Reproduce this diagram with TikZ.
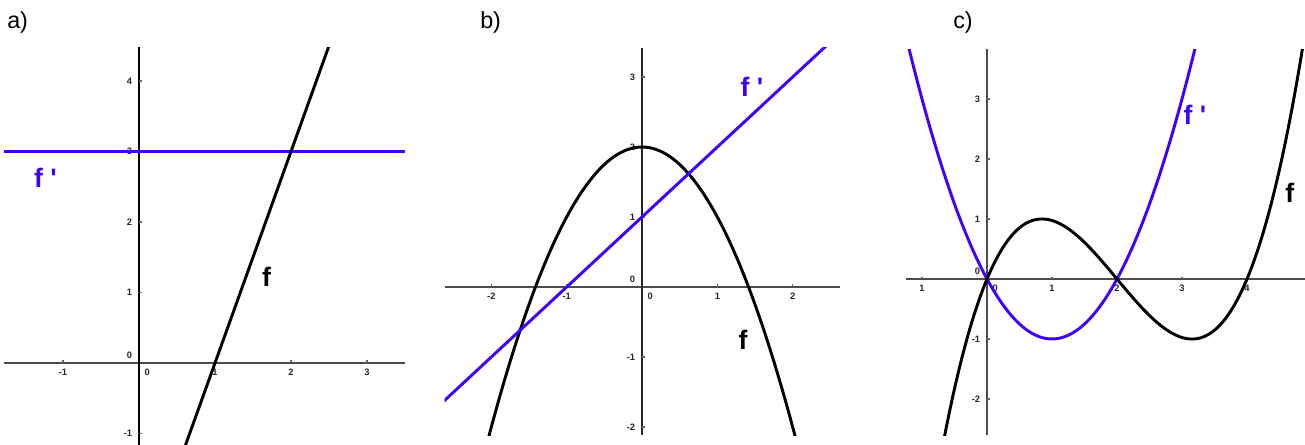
\documentclass[tikz,border=0pt]{standalone}
\usepackage{fontspec}
\setmainfont{Liberation Sans}
\newfontfamily\plotfont{Liberation Sans}
\usetikzlibrary{positioning}
\definecolor{derivblue}{RGB}{64,0,255}
\begin{document}
\begin{tikzpicture}[
  x=0.75pt,y=-0.75pt,
  axisline/.style={line width=1.3pt,draw=black!70},
  tickmark/.style={line width=0.9pt,draw=black!60},
  curve/.style={line width=2.2pt,line join=round},
  fcurve/.style={curve,draw=black},
  dcurve/.style={curve,draw=derivblue},
  ticklab/.style={font=\plotfont\fontsize{7}{7}\selectfont\bfseries,text=black!85,inner sep=0pt},
  panel/.style={font=\plotfont\fontsize{17.5}{17.5}\selectfont,anchor=west,inner sep=0pt},
  fname/.style={font=\plotfont\fontsize{20}{20}\selectfont\bfseries,inner sep=0pt}
]
\useasboundingbox (0,0) rectangle (1305,445);
\node[panel] (pa) at (7,22) {a)};
\node[panel] (pb) at (480,22) {b)};
\node[panel] (pc) at (953,22) {c)};
% a) f = 3x-3, f' = 3
\begin{scope}[shift={(139,363)},x=57pt,y=52.875pt]
  \draw[axisline] (-1.78,0) -- (3.5,0);
  \draw[axisline,draw=black] (0,-1.165) -- (0,4.48);
  \foreach \t in {-1,1,2,3} {
    \draw[tickmark] (\t,0) -- (\t,0.04);
    \node[ticklab,below=4pt] (ax\t) at (\t,0) {\t};
  }
  \foreach \t in {-1,1,2,3,4} {
    \draw[tickmark] (0,\t) -- (0.04,\t);
    \node[ticklab,left=5pt] (ay\t) at (0,\t) {\t};
  }
  \node[ticklab,above left=3pt and 5pt] (ay0) at (0,0) {0};
  \node[ticklab,below right=4pt and 4pt] (ax0) at (0,0) {0};
  \begin{scope}
    \clip (-1.78,-1.165) rectangle (3.5,4.48);
    \draw[dcurve] (-1.78,3) -- (3.5,3);
    \draw[fcurve] (0.6,-1.2) -- (2.5,4.5);
  \end{scope}
  \node[fname,text=derivblue] (fda) at (-1.23,2.62) {f '};
  \node[fname] (fa) at (1.68,1.22) {f};
\end{scope}
% b) f = 2-x^2, f' = x+1
\begin{scope}[shift={(642,287)},x=56.5pt,y=52.5pt]
  \draw[axisline] (-2.62,0) -- (2.63,0);
  \draw[axisline,draw=black!85] (0,-2.115) -- (0,3.415);
  \foreach \t in {-2,-1,1,2} {
    \draw[tickmark] (\t,0) -- (\t,0.04);
    \node[ticklab,below=4pt] (bx\t) at (\t,0) {\t};
  }
  \foreach \t in {-2,-1,1,2,3} {
    \draw[tickmark] (0,\t) -- (0.04,\t);
    \node[ticklab,left=5pt] (by\t) at (0,\t) {\t};
  }
  \node[ticklab,above left=3pt and 5pt] (by0) at (0,0) {0};
  \node[ticklab,below right=4pt and 4pt] (bx0) at (0,0) {0};
  \begin{scope}
    \clip (-2.62,-2.115) rectangle (2.63,3.415);
    \draw[fcurve] plot[domain=-2.1:2.1,samples=80,smooth] (\x,{2-\x*\x});
    \draw[dcurve] (-2.7,-1.7) -- (2.7,3.7);
  \end{scope}
  \node[fname,text=derivblue] (fdb) at (1.46,2.86) {f '};
  \node[fname] (fb) at (1.34,-0.76) {f};
\end{scope}
% c) f = x(x-2)(x-4)/3.08, f' = x^2-2x
\begin{scope}[shift={(987,279)},x=48.75pt,y=45pt]
  \draw[axisline] (-1.25,0) -- (4.9,0);
  \draw[axisline] (0,-2.6) -- (0,3.83);
  \foreach \t/\lab in {-1/1,1/1,2/2,3/3,4/4} {
    \draw[tickmark] (\t,0) -- (\t,0.04);
    \node[ticklab,below=4pt] (cx\t) at (\t,0) {\lab};
  }
  \foreach \t in {-2,-1,1,2,3} {
    \draw[tickmark] (0,\t) -- (0.04,\t);
    \node[ticklab,left=5pt] (cy\t) at (0,\t) {\t};
  }
  \node[ticklab,above left=3pt and 5pt] (cy0) at (0,0) {0};
  \node[ticklab,below right=4pt and 4pt] (cx0) at (0,0) {0};
  \begin{scope}
    \clip (-1.25,-2.6) rectangle (4.9,3.83);
    \draw[dcurve] plot[domain=-1.3:3.3,samples=80,smooth] (\x,{\x*\x-2*\x});
    \draw[fcurve] plot[domain=-0.7:4.95,samples=100,smooth] (\x,{0.325*\x*(\x-2)*(\x-4)});
  \end{scope}
  \node[fname,text=derivblue] (fdc) at (3.2,2.73) {f '};
  \node[fname] (fc) at (4.66,1.43) {f};
\end{scope}
\end{tikzpicture}
\end{document}
